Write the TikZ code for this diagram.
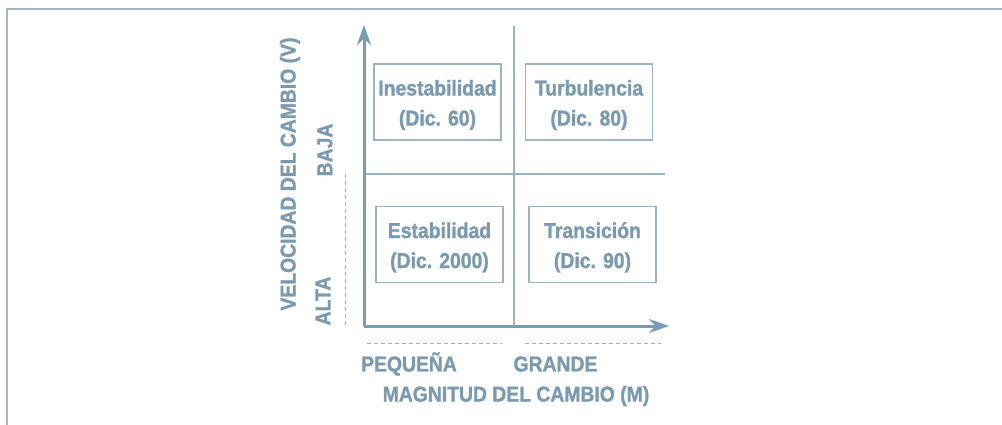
\documentclass[tikz,border=0pt]{standalone}
\usepackage{fontspec}
\setmainfont{Liberation Sans}[FakeStretch=0.9, BoldFeatures={FakeBold=1.3}]
\usetikzlibrary{arrows.meta}
\definecolor{txt}{HTML}{7A9AB1}
\definecolor{axis}{HTML}{7A9CB3}
\definecolor{thin}{HTML}{9AB3C5}
\definecolor{frame}{HTML}{A3B6C5}
\newcommand{\qstrut}{\rule{0pt}{21.5pt}}
\tikzset{
  lbl/.style={font=\bfseries\fontsize{21.5}{30}\selectfont, text=txt, inner sep=0pt},
  quad/.style={draw=thin, line width=1.3pt, minimum width=127pt, minimum height=76pt, align=center, font=\bfseries\fontsize{21.5}{30}\selectfont, text=txt},
  axisline/.style={draw=axis, line width=3pt, -{Stealth[length=20pt,width=14pt]}},
  divline/.style={draw=thin, line width=1.5pt},
  dashline/.style={draw=thin, line width=1pt, dash pattern=on 4pt off 3pt},
}
\begin{document}
\begin{tikzpicture}[x=1pt,y=-1pt]
\useasboundingbox (0,0) rectangle (1002,425);
% frame
\draw[frame, line width=2pt] (7,425) -- (7,9) -- (1002,9);
% coordinates
\coordinate (O) at (364,326);
\coordinate (Ytop) at (364,25);
\coordinate (Xend) at (669,326);
\coordinate (Vtop) at (514,26);
\coordinate (Vbot) at (514,326);
\coordinate (Hl) at (364,174);
\coordinate (Hr) at (665,174);
% dividers
\draw[divline] (Vtop) -- (Vbot);
\draw[divline] (Hl) -- (Hr);
% axes
\draw[axisline] (O) -- (Ytop);
\draw[axisline] (O) -- (Xend);
% dashed guides
\coordinate (d1a) at (345,174);
\coordinate (d1b) at (345,326);
\draw[dashline] (d1a) -- (d1b);
\coordinate (d2a) at (367,343);
\coordinate (d2b) at (502,343);
\draw[dashline] (d2a) -- (d2b);
\coordinate (d3a) at (525,343);
\coordinate (d3b) at (661,343);
\draw[dashline] (d3a) -- (d3b);
% quadrant boxes
\node[quad] (ines) at (437.5,102) {\qstrut Inestabilidad\\(Dic. 60)};
\node[quad] (turb) at (589,102) {\qstrut Turbulencia\\(Dic. 80)};
\node[quad] (esta) at (439.5,244.5) {\qstrut Estabilidad\\(Dic. 2000)};
\node[quad] (tran) at (592.5,244.5) {\qstrut Transición\\(Dic. 90)};
% axis labels
\node[lbl] (peq) at (409,364) {PEQUEÑA};
\node[lbl] (gra) at (555.5,364) {GRANDE};
\node[lbl] (mag) at (516,396) {MAGNITUD DEL CAMBIO (M)};
\node[lbl, rotate=90] (vel) at (290,174) {VELOCIDAD DEL CAMBIO (V)};
\node[lbl, rotate=90] (baja) at (325,150) {BAJA};
\node[lbl, rotate=90] (alta) at (323,301) {ALTA};
\end{tikzpicture}
\end{document}
